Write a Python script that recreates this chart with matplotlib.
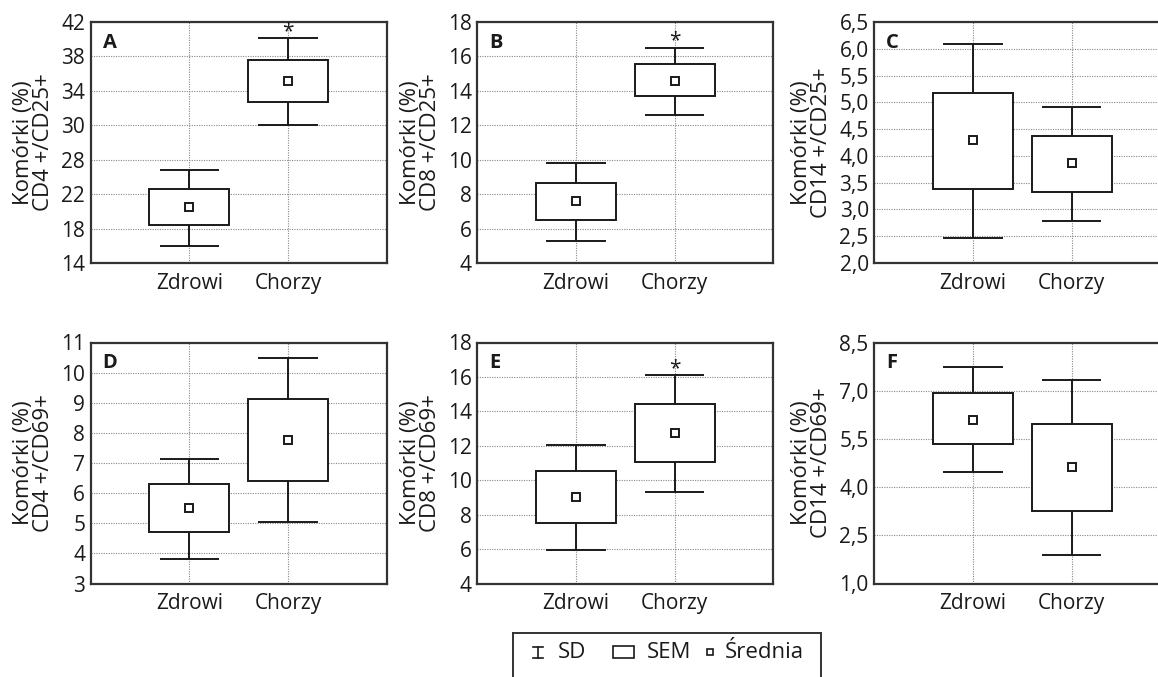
import matplotlib
matplotlib.use("Agg")
import matplotlib.pyplot as plt
from matplotlib.patches import Rectangle
from matplotlib.lines import Line2D

plt.rcParams['font.family'] = ['Open Sans', 'DejaVu Sans']

groups = ["Zdrowi", "Chorzy"]

# Each panel: mean, SEM box (low, high), SD whiskers (low, high)
panel_letters = ["A", "B", "C", "D", "E", "F"]
ylabels = ["Komórki (%)\nCD4 +/CD25+", "Komórki (%)\nCD8 +/CD25+", "Komórki (%)\nCD14 +/CD25+",
           "Komórki (%)\nCD4 +/CD69+", "Komórki (%)\nCD8 +/CD69+", "Komórki (%)\nCD14 +/CD69+"]

mean_A = [20.5, 35.2]; sem_lo_A = [18.4, 32.7]; sem_hi_A = [22.6, 37.6]; sd_lo_A = [16.0, 30.0]; sd_hi_A = [24.8, 40.1]
mean_B = [7.6, 14.6]; sem_lo_B = [6.5, 13.7]; sem_hi_B = [8.66, 15.55]; sd_lo_B = [5.3, 12.6]; sd_hi_B = [9.8, 16.5]
mean_C = [4.30, 3.86]; sem_lo_C = [3.39, 3.33]; sem_hi_C = [5.18, 4.38]; sd_lo_C = [2.46, 2.78]; sd_hi_C = [6.09, 4.91]
mean_D = [5.5, 7.76]; sem_lo_D = [4.7, 6.4]; sem_hi_D = [6.3, 9.11]; sd_lo_D = [3.8, 5.04]; sd_hi_D = [7.12, 10.48]
mean_E = [9.02, 12.74]; sem_lo_E = [7.5, 11.07]; sem_hi_E = [10.52, 14.4]; sd_lo_E = [5.92, 9.29]; sd_hi_E = [12.06, 16.1]
mean_F = [6.1, 4.61]; sem_lo_F = [5.33, 3.25]; sem_hi_F = [6.92, 5.97]; sd_lo_F = [4.48, 1.89]; sd_hi_F = [7.75, 7.34]

yticks_A = [14, 18, 22, 26, 30, 34, 38, 42]; ylabels_A = ["14", "18", "22", "28", "30", "34", "38", "42"]
yticks_B = [4, 6, 8, 10, 12, 14, 16, 18]; ylabels_B = [str(v) for v in yticks_B]
yticks_C = [2.0, 2.5, 3.0, 3.5, 4.0, 4.5, 5.0, 5.5, 6.0, 6.5]; ylabels_C = ["2,0", "2,5", "3,0", "3,5", "4,0", "4,5", "5,0", "5,5", "6,0", "6,5"]
yticks_D = [3, 4, 5, 6, 7, 8, 9, 10, 11]; ylabels_D = [str(v) for v in yticks_D]
yticks_E = [4, 6, 8, 10, 12, 14, 16, 18]; ylabels_E = [str(v) for v in yticks_E]
yticks_F = [1.0, 2.5, 4.0, 5.5, 7.0, 8.5]; ylabels_F = ["1,0", "2,5", "4,0", "5,5", "7,0", "8,5"]

significant_A = [False, True]
significant_B = [False, True]
significant_C = [False, False]
significant_D = [False, False]
significant_E = [False, True]
significant_F = [False, False]

panels = [
    (mean_A, sem_lo_A, sem_hi_A, sd_lo_A, sd_hi_A, yticks_A, ylabels_A, significant_A),
    (mean_B, sem_lo_B, sem_hi_B, sd_lo_B, sd_hi_B, yticks_B, ylabels_B, significant_B),
    (mean_C, sem_lo_C, sem_hi_C, sd_lo_C, sd_hi_C, yticks_C, ylabels_C, significant_C),
    (mean_D, sem_lo_D, sem_hi_D, sd_lo_D, sd_hi_D, yticks_D, ylabels_D, significant_D),
    (mean_E, sem_lo_E, sem_hi_E, sd_lo_E, sd_hi_E, yticks_E, ylabels_E, significant_E),
    (mean_F, sem_lo_F, sem_hi_F, sd_lo_F, sd_hi_F, yticks_F, ylabels_F, significant_F),
]

W, H = 1158, 677
fig = plt.figure(figsize=(W / 100, H / 100), dpi=100)

lefts = [90.7, 477.3, 874.3]
tops = [22, 342.5]
aw, ah = 296, 241

spine_col = "#333333"
ink = "#1a1a1a"
x = [0, 1]
for i, (mean, slo, shi, dlo, dhi, yt, ytl, sig) in enumerate(panels):
    r, c = divmod(i, 3)
    ax = fig.add_axes([lefts[c] / W, 1 - (tops[r] + ah) / H, aw / W, ah / H])
    ax.set_xlim(-1, 2)
    ax.set_ylim(yt[0], yt[-1])
    ax.set_yticks(yt)
    ax.set_yticklabels(ytl)
    ax.set_xticks(x)
    ax.set_xticklabels(groups)
    ax.tick_params(length=0, labelsize=15, pad=4, colors=ink)
    ax.tick_params(axis="x", pad=7)
    ax.grid(True, linestyle=(0, (1, 1.2)), color="#888888", linewidth=0.8)
    ax.set_axisbelow(True)
    for s in ax.spines.values():
        s.set_color(spine_col)
        s.set_linewidth(1.6)
    # SD whiskers
    ax.vlines(x, dlo, dhi, color=ink, linewidth=1.4, zorder=2)
    ax.hlines(dlo, [v - 0.3 for v in x], [v + 0.3 for v in x], color=ink, linewidth=1.4, zorder=2)
    ax.hlines(dhi, [v - 0.3 for v in x], [v + 0.3 for v in x], color=ink, linewidth=1.4, zorder=2)
    # SEM boxes
    ax.bar(x, [h - l for h, l in zip(shi, slo)], bottom=slo, width=0.81,
           facecolor="white", edgecolor=ink, linewidth=1.4, zorder=3)
    # mean
    ax.plot(x, mean, linestyle="none", marker="s", markersize=6, markerfacecolor="white",
            markeredgecolor=ink, markeredgewidth=1.4, zorder=4)
    for xi, s, top in zip(x, sig, dhi):
        if s:
            ax.annotate("*", (xi, top), xytext=(0, 0.8), textcoords="offset points",
                        ha="center", va="baseline", fontsize=15, color=ink)
    ax.text(0.04, 0.955, panel_letters[i], transform=ax.transAxes, fontsize=14.5,
            fontweight="bold", ha="left", va="top", color=ink)
    ax.set_ylabel(ylabels[i], fontsize=16, linespacing=0.95, labelpad=5, color=ink)

# Legend box at bottom
lax = fig.add_axes([513 / W, -0.1, (821 - 513) / W, (677 - 632.7) / H + 0.1])
lax.set_xlim(513, 821)
lax.set_ylim(677 + 0.1 * H, 632.7)
lax.set_xticks([]); lax.set_yticks([])
for s in lax.spines.values():
    s.set_color(spine_col)
    s.set_linewidth(1.4)
lax.spines["bottom"].set_visible(False)
yc = 652
# SD symbol (I-beam)
lax.add_line(Line2D([538, 538], [646.5, 657.5], color=ink, lw=1.2))
lax.add_line(Line2D([533, 543], [646.5, 646.5], color=ink, lw=1.2))
lax.add_line(Line2D([533, 543], [657.5, 657.5], color=ink, lw=1.2))
lax.text(558, yc, "SD", fontsize=16, va="center", ha="left", color=ink)
lax.add_patch(Rectangle((613, 646), 20.5, 11.5, facecolor="white", edgecolor=ink, lw=1.2))
lax.text(647, yc, "SEM", fontsize=16, va="center", ha="left", color=ink)
lax.plot([710], [yc], marker="s", markersize=5, markerfacecolor="white",
         markeredgecolor=ink, markeredgewidth=1.2, linestyle="none")
lax.text(725, yc, "Średnia", fontsize=16, va="center", ha="left", color=ink)

fig.savefig("out.png", dpi=100)
